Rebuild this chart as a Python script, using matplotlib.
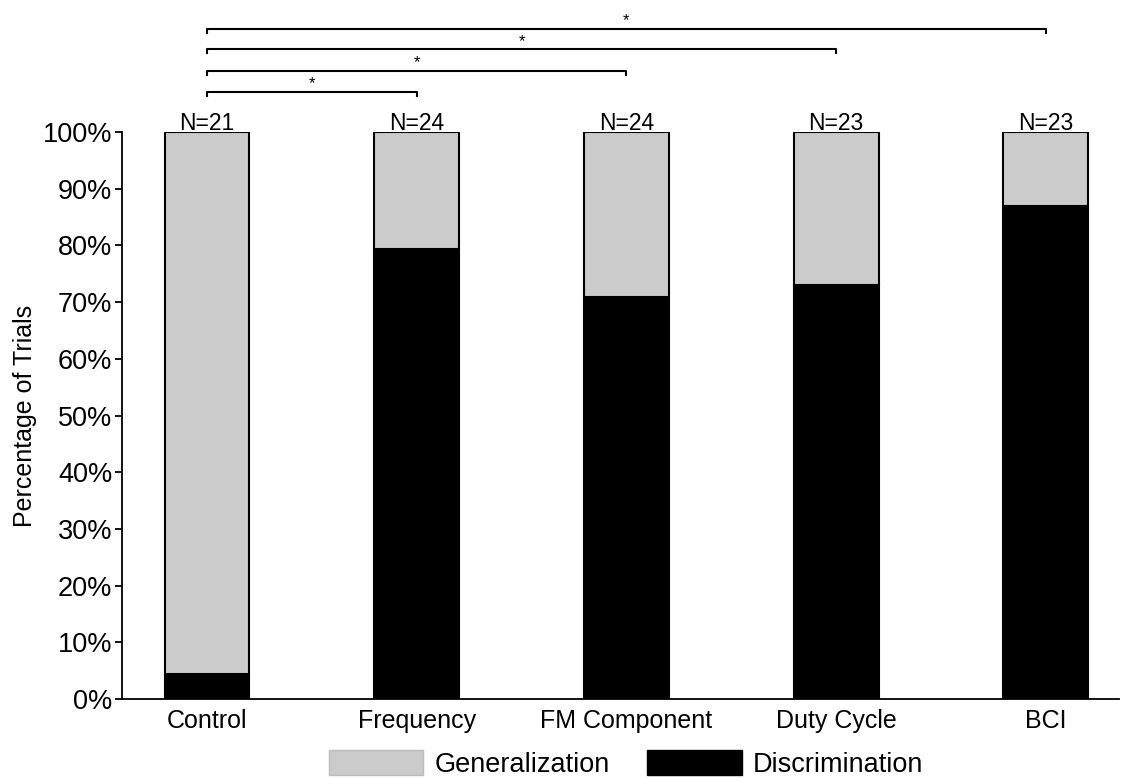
import matplotlib
matplotlib.use('Agg')
import matplotlib.pyplot as plt
import matplotlib.patches as mpatches

plt.rcParams['font.family'] = ['Liberation Sans', 'DejaVu Sans']

categories = ['Control', 'Frequency', 'FM Component', 'Duty Cycle', 'BCI']
n_trials = [21, 24, 24, 23, 23]
discrimination = [4.5, 79.3, 70.9, 73.0, 87.0]
generalization = [100 - d for d in discrimination]

# significance comparisons: (from, to, height in %)
sig_pairs = [(0, 1, 107.1), (0, 2, 110.8), (0, 3, 114.6), (0, 4, 118.2)]

GRAY = '#cbcbcb'
BAR_W = 0.405

fig = plt.figure(figsize=(11.32, 7.78), dpi=100)
ax = fig.add_axes([0.1078, 0.1015, 0.881, 0.7288])

xs = list(range(len(categories)))
ax.bar(xs, discrimination, BAR_W, color='black', edgecolor='black', linewidth=1.5)
ax.bar(xs, generalization, BAR_W, bottom=discrimination, color=GRAY,
       edgecolor='black', linewidth=1.5)

for x, n in zip(xs, n_trials):
    ax.text(x, 99.5, 'N={}'.format(n), ha='center', va='bottom', fontsize=16.5)

for a, b, h in sig_pairs:
    ax.plot([a, a, b, b], [h - 0.7, h, h, h - 0.7], color='black', lw=1.5,
            clip_on=False)
    ax.text((a + b) / 2, h + 0.05, '*', ha='center', va='bottom', fontsize=12)

ax.set_xlim(-0.405, 4.35)
ax.set_ylim(0, 100)
ax.set_yticks(range(0, 101, 10))
ax.set_yticklabels(['{}%'.format(v) for v in range(0, 101, 10)], fontsize=19.5)
ax.set_xticks(xs)
ax.set_xticklabels(categories, fontsize=18)
ax.tick_params(axis='x', length=0, pad=7)
ax.tick_params(axis='y', length=5, width=1.3, pad=2)
ax.set_ylabel('Percentage of Trials', fontsize=18, labelpad=4)
ax.spines['top'].set_visible(False)
ax.spines['right'].set_visible(False)
for s in ('left', 'bottom'):
    ax.spines[s].set_linewidth(1.3)

handles = [mpatches.Patch(facecolor=GRAY, edgecolor='#bbbbbb', label='Generalization'),
           mpatches.Patch(facecolor='black', edgecolor='black', label='Discrimination')]
fig.legend(handles=handles, loc='center', bbox_to_anchor=(0.553, 0.018), ncol=2,
           frameon=False, fontsize=19.5, handlelength=3.5, handleheight=1.0,
           columnspacing=1.4, handletextpad=0.4)

fig.savefig('out.png', dpi=100)
